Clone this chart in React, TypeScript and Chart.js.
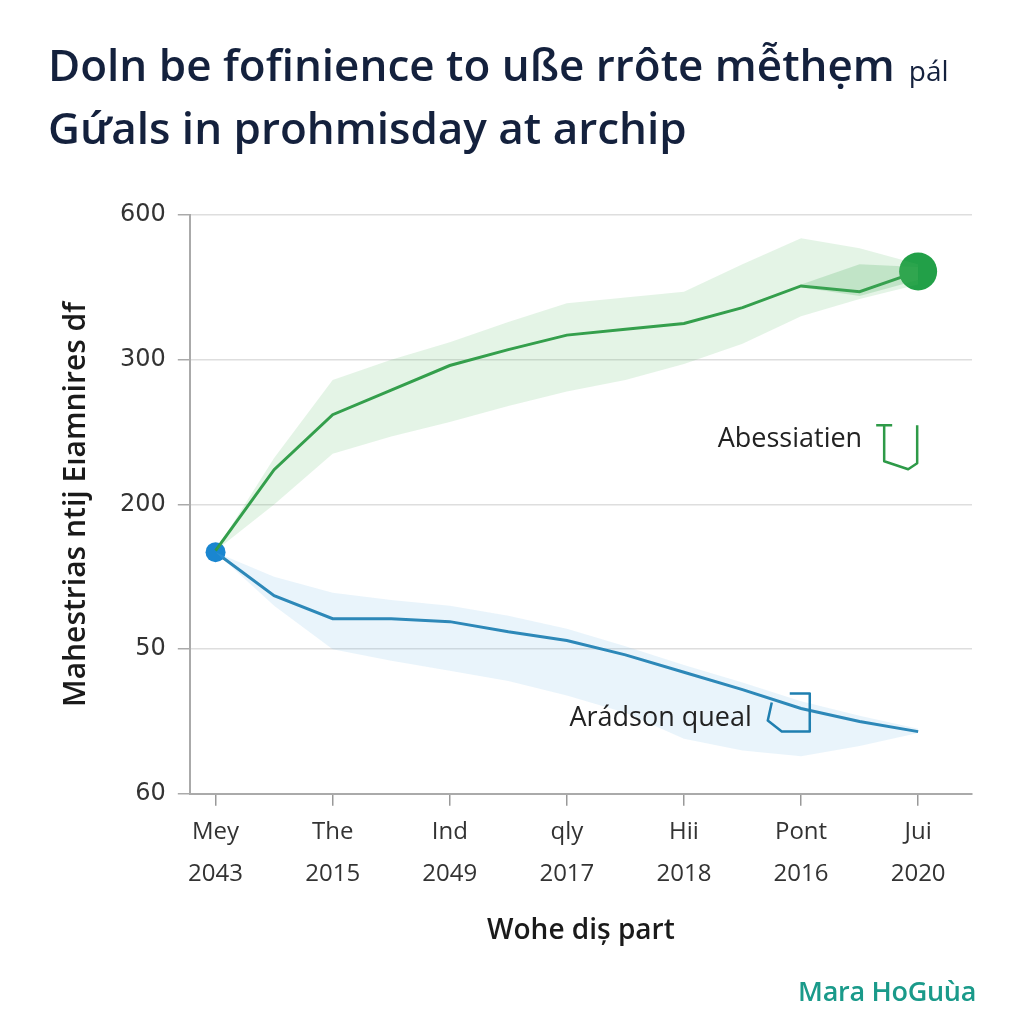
import React, { useEffect, useRef } from "react";
import { Chart, registerables } from "chart.js";

Chart.register(...registerables);

const categories = ["Mey", "The", "Ind", "qly", "Hii", "Pont", "Jui"];
const years = ["2043", "2015", "2049", "2017", "2018", "2016", "2020"];
const yTickLabels = ["60", "50", "200", "300", "600"];

const xSteps = [0, 0.5, 1, 1.5, 2, 2.5, 3, 3.5, 4, 4.5, 5, 5.5, 6];
const greenLine = [1.68, 2.24, 2.62, 2.79, 2.96, 3.07, 3.17, 3.21, 3.25, 3.36, 3.51, 3.47, 3.61];
const greenUpper = [1.68, 2.32, 2.86, 3.0, 3.12, 3.26, 3.39, 3.43, 3.47, 3.66, 3.84, 3.77, 3.66];
const greenLower = [1.68, 2.0, 2.35, 2.47, 2.57, 2.68, 2.78, 2.86, 2.97, 3.11, 3.3, 3.42, 3.52];
const innerSteps = [5, 5.5, 6];
const greenInnerUpper = [3.52, 3.66, 3.64];
const greenInnerLower = [3.5, 3.44, 3.55];
const blueLine = [1.67, 1.37, 1.21, 1.21, 1.19, 1.12, 1.06, 0.96, 0.84, 0.72, 0.59, 0.5, 0.43];
const blueUpper = [1.67, 1.5, 1.39, 1.34, 1.3, 1.23, 1.14, 1.02, 0.89, 0.77, 0.64, 0.54, 0.45];
const blueLower = [1.67, 1.3, 1.0, 0.92, 0.85, 0.78, 0.68, 0.56, 0.38, 0.3, 0.26, 0.33, 0.42];

const annotationLabels = ["Abessiatien", "Arádson queal"];
const annotationX = [5.71, 4.75];
const annotationY = [2.45, 0.52];

const GREEN = "#2e9a48";
const BLUE = "#1f7fb0";

const pts = (xs: number[], ys: number[]) => xs.map((x, i) => ({ x, y: ys[i] }));

const annotationPlugin = {
  id: "bracketNotes",
  afterDatasetsDraw(chart: any) {
    const { ctx, scales } = chart;
    const xs = scales.x;
    const ys = scales.y;
    ctx.save();
    ctx.font = "27px 'Open Sans'";
    ctx.fillStyle = "#222";
    ctx.textAlign = "right";
    ctx.textBaseline = "middle";
    ctx.lineWidth = 2.5;
    ctx.lineJoin = "round";
    annotationLabels.forEach((label, i) => {
      const px = xs.getPixelForValue(annotationX[i]);
      const py = ys.getPixelForValue(annotationY[i]);
      if (i === 0) {
        ctx.fillText(label, px - 22, py);
        ctx.strokeStyle = GREEN;
        ctx.beginPath();
        ctx.moveTo(px - 8, py - 14);
        ctx.lineTo(px + 8, py - 14);
        ctx.moveTo(px, py - 14);
        ctx.lineTo(px, py + 22);
        ctx.lineTo(px + 24, py + 30);
        ctx.lineTo(px + 33, py + 24);
        ctx.lineTo(px + 33, py - 14);
        ctx.stroke();
      } else {
        ctx.fillText(label, px - 20, py);
        ctx.strokeStyle = BLUE;
        ctx.beginPath();
        ctx.moveTo(px + 18, py - 25);
        ctx.lineTo(px + 38, py - 25);
        ctx.lineTo(px + 38, py + 13);
        ctx.lineTo(px + 10, py + 13);
        ctx.lineTo(px - 4, py + 2);
        ctx.lineTo(px, py - 16);
        ctx.stroke();
      }
    });
    ctx.restore();
  },
};

export default function App() {
  const ref = useRef<HTMLCanvasElement>(null);

  useEffect(() => {
    if (!ref.current) return;
    const chart = new Chart(ref.current, {
      type: "line",
      data: {
        datasets: [
          {
            data: pts(xSteps, greenUpper),
            borderWidth: 0,
            pointRadius: 0,
            fill: "+1",
            backgroundColor: "rgba(90,185,100,0.16)",
          },
          {
            data: pts(xSteps, greenLower),
            borderWidth: 0,
            pointRadius: 0,
            fill: false,
          },
          {
            data: pts(innerSteps, greenInnerUpper),
            borderWidth: 0,
            pointRadius: 0,
            fill: "+1",
            backgroundColor: "rgba(70,170,90,0.22)",
          },
          {
            data: pts(innerSteps, greenInnerLower),
            borderWidth: 0,
            pointRadius: 0,
            fill: false,
          },
          {
            data: pts(xSteps, blueUpper),
            borderWidth: 0,
            pointRadius: 0,
            fill: "+1",
            backgroundColor: "rgba(120,185,230,0.16)",
          },
          {
            data: pts(xSteps, blueLower),
            borderWidth: 0,
            pointRadius: 0,
            fill: false,
          },
          {
            data: pts(xSteps, greenLine),
            borderColor: GREEN,
            borderWidth: 3,
            fill: false,
            pointRadius: greenLine.map((_, i) => (i === greenLine.length - 1 ? 19 : 0)),
            pointBackgroundColor: "#22a048",
            pointBorderWidth: 0,
          },
          {
            data: pts(xSteps, blueLine),
            borderColor: BLUE,
            borderWidth: 3,
            fill: false,
            pointRadius: blueLine.map((_, i) => (i === 0 ? 10 : 0)),
            pointBackgroundColor: "#1a86d0",
            pointBorderWidth: 0,
          },
        ],
      },
      options: {
        animation: false,
        responsive: false,
        maintainAspectRatio: false,
        layout: { padding: { top: 215, left: 58, right: 52, bottom: 76 } },
        plugins: {
          legend: { display: false },
          tooltip: { enabled: false },
        },
        scales: {
          x: {
            type: "linear",
            min: -0.22,
            max: 6.46,
            afterBuildTicks: (scale: any) => {
              scale.ticks = categories.map((_, i) => ({ value: i }));
            },
            ticks: {
              autoSkip: false,
              maxRotation: 0,
              color: "#333",
              padding: 6,
              font: { family: "'Open Sans'", size: 24, lineHeight: 1.72 },
              callback: (v: any) => [categories[v], years[v]],
            },
            grid: {
              drawOnChartArea: false,
              drawTicks: true,
              tickLength: 12,
              color: "#999",
              lineWidth: 1.5,
            },
            border: { display: true, color: "#aaa", width: 2 },
            title: {
              display: true,
              text: "Wohe diș part",
              color: "#1a1a1a",
              font: { family: "'Open Sans'", size: 28, weight: "600" },
              padding: { top: 14, bottom: 0 },
            },
          },
          y: {
            min: 0,
            max: 4,
            ticks: {
              stepSize: 1,
              color: "#333",
              padding: 12,
              font: { family: "'DejaVu Sans'", size: 24 },
              callback: (v: any) => yTickLabels[v],
            },
            grid: {
              color: "#dedede",
              lineWidth: 1.5,
              tickLength: 12,
              tickColor: "#aaa",
            },
            border: { display: true, color: "#aaa", width: 2 },
            title: {
              display: true,
              text: "Mahestrias ntij Eıamnires df",
              color: "#1a1a1a",
              font: { family: "'Open Sans'", size: 30, weight: "600" },
              padding: { top: 0, bottom: 14 },
            },
          },
        },
      },
      plugins: [annotationPlugin],
    });
    return () => chart.destroy();
  }, []);

  return (
    <div
      style={{
        position: "fixed",
        left: 0,
        top: 0,
        width: 1024,
        height: 1024,
        background: "#fff",
        overflow: "hidden",
      }}
    >
      <canvas ref={ref} width={1024} height={1024} style={{ position: "absolute", left: 0, top: 0 }} />
      <div
        style={{
          position: "absolute",
          left: 48,
          top: 36,
          fontFamily: "'Open Sans', sans-serif",
          fontWeight: 600,
          fontSize: 44,
          lineHeight: "57px",
          color: "#14213d",
          whiteSpace: "nowrap",
        }}
      >
        <div>
          Doln be fofinience to uße rrôte mễthẹm
          <span style={{ fontSize: 28, fontWeight: 400, marginLeft: 14 }}>pál</span>
        </div>
        <div>Gứals in prohmisday at archip</div>
      </div>
      <div
        style={{
          position: "absolute",
          right: 48,
          top: 972,
          fontFamily: "'Open Sans', sans-serif",
          fontWeight: 600,
          fontSize: 27,
          color: "#1a9a8a",
          letterSpacing: -0.3,
        }}
      >
        Mara HoGuùa
      </div>
    </div>
  );
}
